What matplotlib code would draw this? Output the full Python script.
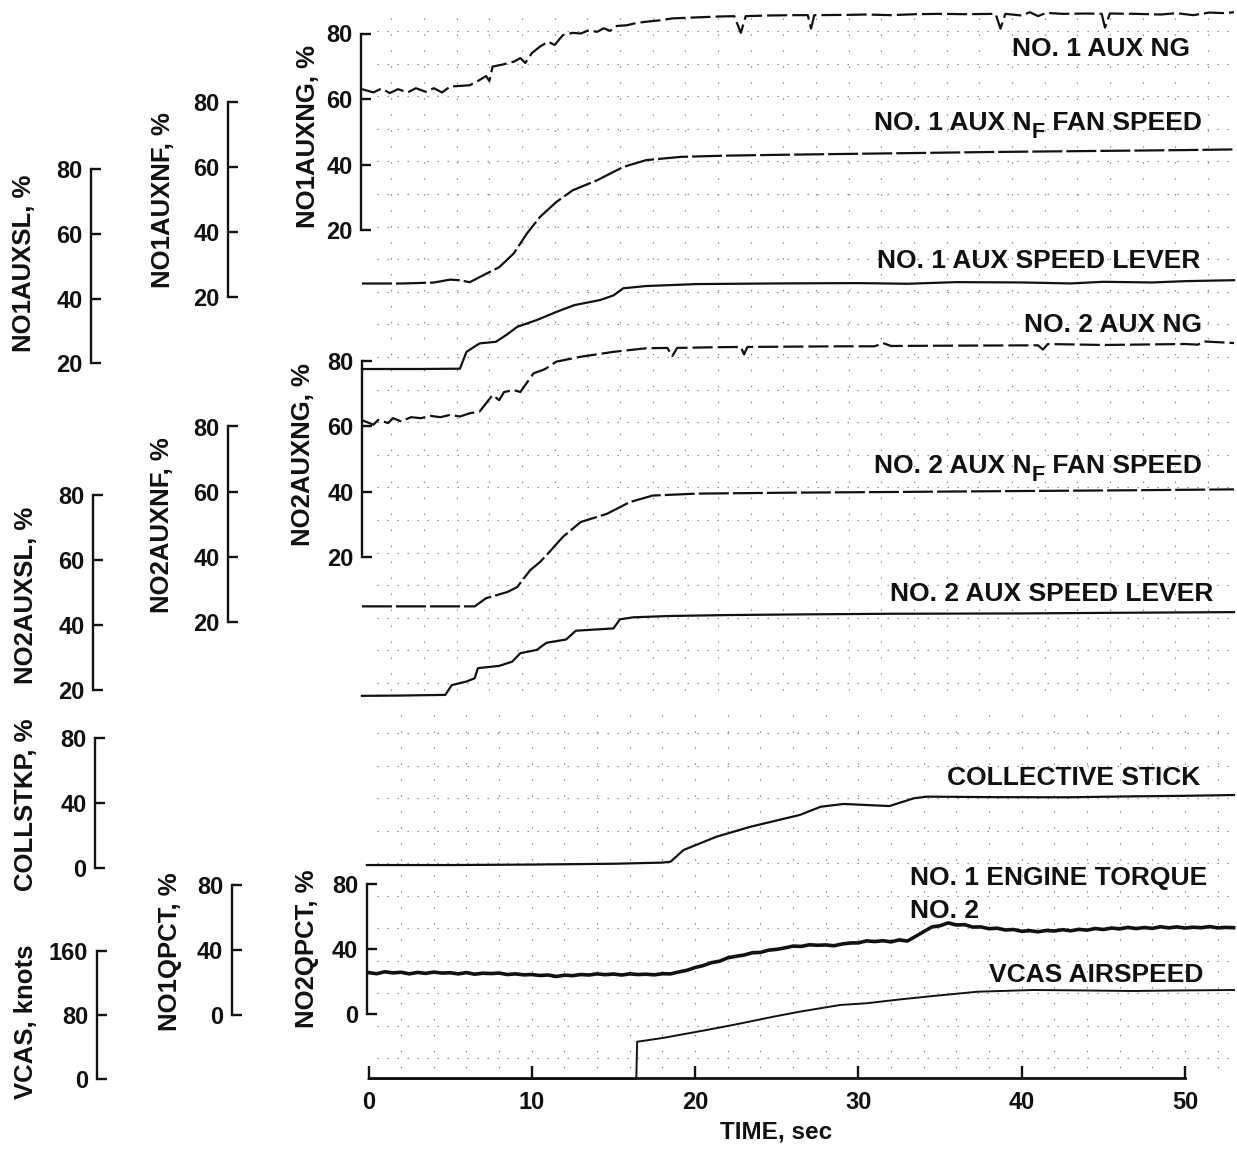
import numpy as np
import matplotlib
matplotlib.use("Agg")
import matplotlib.pyplot as plt

plt.rcParams['font.family'] = ['Liberation Sans', 'DejaVu Sans']
plt.rcParams['font.weight'] = 'bold'
plt.rcParams['lines.scale_dashes'] = False

# ---------------------------------------------------------------- data
# NO. 1 auxiliary engine gas-generator speed, %
t_ng1 = [-0.4, 0.3, 0.8, 1.3, 1.8, 2.4, 2.9, 3.5, 4.0, 4.5, 5.0, 5.6, 6.2, 6.8,
         7.2, 7.4, 7.6, 8.2, 8.9, 9.3, 9.6, 10.0, 10.5, 11.0, 11.4, 11.9, 12.5,
         13.0, 13.5, 14.0, 14.4, 14.8, 15.2, 15.8, 16.4, 17.0, 17.8, 18.6, 19.5,
         20.5, 21.5, 22.4, 22.8, 23.1, 24.5, 26.0, 26.9, 27.1, 27.3, 29.5, 30.5,
         32.0, 33.5, 35.0, 36.5, 38.4, 38.7, 39.0, 40.0, 40.5, 41.0, 41.5, 42.5,
         44.0, 44.9, 45.1, 45.4, 47.0, 48.5, 49.5, 50.5, 51.5, 52.5, 53.0]
ng1 = [63.0, 62.0, 63.2, 61.8, 63.0, 62.0, 63.3, 62.2, 63.3, 62.0, 63.8, 64.0,
       64.2, 65.8, 67.0, 65.5, 69.9, 70.5, 71.4, 72.5, 71.0, 74.0, 76.0, 77.5,
       76.5, 79.5, 80.2, 80.0, 81.0, 80.5, 81.6, 80.8, 82.3, 82.5, 83.2, 83.6,
       84.0, 84.6, 84.8, 85.0, 85.2, 85.3, 80.2, 85.3, 85.5, 85.6, 85.6, 81.5,
       85.6, 85.7, 85.8, 85.6, 85.9, 86.0, 85.9, 86.0, 81.5, 86.0, 85.5, 86.5,
       85.3, 86.3, 86.0, 86.1, 86.0, 81.8, 86.1, 86.0, 85.8, 86.2, 85.6, 86.4,
       86.2, 86.5]

# NO. 1 auxiliary fan speed, %
t_nf1 = [-0.4, 2.0, 4.0, 5.0, 5.6, 6.2, 7.2, 8.0, 8.9, 9.7, 10.5, 11.5, 12.5,
         14.0, 15.6, 17.0, 19.1, 22.0, 26.0, 32.1, 38.0, 44.0, 50.0, 53.0]
nf1 = [24.0, 24.0, 24.3, 25.2, 25.0, 24.4, 27.0, 29.0, 33.3, 39.4, 44.5, 49.1,
       52.7, 55.8, 59.9, 62.0, 63.0, 63.4, 63.7, 64.1, 64.5, 64.8, 65.1, 65.3]

# NO. 1 auxiliary speed lever, %
t_sl1 = [-0.4, 3.0, 5.6, 6.0, 6.8, 7.8, 8.5, 9.1, 10.3, 11.5, 12.6, 14.2, 15.0,
         15.6, 17.0, 20.1, 25.0, 30.0, 33.0, 36.0, 40.0, 43.0, 45.0, 48.0,
         50.0, 53.0]
sl1 = [18.3, 18.3, 18.4, 23.6, 26.2, 26.7, 29.0, 31.3, 33.4, 35.9, 38.0, 39.6,
       41.0, 43.2, 43.9, 44.5, 44.7, 44.8, 44.6, 45.1, 45.0, 44.7, 45.2, 45.0,
       45.4, 45.7]

# NO. 2 auxiliary engine gas-generator speed, %
t_ng2 = [-0.4, 0.3, 0.6, 1.2, 1.5, 2.0, 2.6, 3.2, 3.8, 4.4, 5.0, 5.6, 6.2, 6.8,
         7.6, 8.0, 8.3, 8.9, 9.3, 10.1, 10.8, 11.5, 13.0, 15.0, 17.0, 18.3,
         18.6, 18.9, 21.0, 22.8, 23.0, 23.2, 26.0, 29.0, 31.0, 31.5, 32.0, 36.0,
         41.0, 41.3, 41.6, 45.0, 50.0, 50.8, 51.1, 53.0]
ng2 = [61.9, 60.5, 62.0, 61.0, 62.5, 61.5, 62.8, 62.5, 63.2, 62.8, 63.5, 63.0,
       64.0, 64.5, 69.6, 68.0, 70.5, 71.1, 70.5, 76.2, 77.5, 79.8, 81.3, 82.8,
       83.9, 84.0, 81.5, 84.0, 84.2, 84.3, 82.0, 84.3, 84.4, 84.5, 84.5, 85.5,
       84.6, 84.7, 84.8, 83.5, 85.2, 84.9, 85.2, 85.0, 86.0, 85.5]

# NO. 2 auxiliary fan speed, %
t_nf2 = [-0.4, 3.0, 6.5, 7.2, 8.5, 9.1, 9.9, 10.5, 10.9, 11.9, 13.0, 14.6,
         16.0, 17.4, 20.1, 26.0, 32.0, 40.0, 46.0, 53.0]
nf2 = [24.8, 24.8, 24.8, 27.3, 29.2, 30.7, 35.9, 38.4, 40.5, 46.1, 50.7, 53.2,
       56.8, 58.8, 59.4, 59.7, 59.9, 60.2, 60.4, 60.7]

# NO. 2 auxiliary speed lever, %
t_sl2 = [-0.4, 2.0, 4.7, 5.1, 6.0, 6.5, 6.7, 8.0, 8.8, 9.3, 10.3, 10.9, 12.1,
         12.7, 15.0, 15.4, 16.2, 18.3, 22.0, 26.4, 32.0, 40.0, 46.0, 53.0]
sl2 = [18.2, 18.3, 18.5, 21.5, 22.6, 23.6, 26.7, 27.4, 28.7, 31.3, 32.3, 34.5,
       35.5, 38.2, 38.9, 41.7, 42.3, 42.7, 43.0, 43.2, 43.4, 43.5, 43.7, 43.9]

# Collective stick position, %
t_coll = [-0.1, 5.0, 10.0, 15.0, 18.0, 18.5, 19.3, 21.3, 23.4, 26.4, 27.7,
          29.1, 31.9, 33.4, 34.2, 38.0, 42.8, 47.0, 50.0, 53.0]
coll = [2.0, 2.0, 2.3, 2.8, 3.5, 4.1, 11.3, 19.4, 25.6, 32.8, 37.9, 39.6,
        38.3, 43.1, 44.1, 43.8, 43.7, 44.3, 44.6, 45.1]

# Engine torque, % (NO. 1 and NO. 2 traces coincide), sampled every 0.5 s
torque_pct = [25.8, 25.1, 26.3, 25.6, 26.0, 25.0, 25.9, 25.3, 26.1, 25.5,
              25.7, 25.0, 25.8, 24.8, 25.4, 25.2, 25.5, 24.6, 25.0, 24.4,
              24.6, 24.0, 24.3, 23.4, 24.2, 23.9, 24.6, 24.3, 25.0, 24.5,
              24.9, 24.3, 25.0, 24.6, 24.8, 24.4, 25.1, 25.0, 26.2, 27.2,
              28.9, 30.1, 31.9, 32.8, 34.9, 35.8, 36.6, 38.0, 38.2, 39.6,
              40.1, 41.0, 42.1, 41.9, 42.9, 42.6, 42.8, 42.3, 43.4, 44.0,
              44.1, 45.3, 44.9, 45.4, 44.7, 45.9, 45.2, 48.1, 51.0, 53.9,
              54.6, 56.4, 55.1, 55.3, 53.8, 53.9, 52.8, 53.1, 52.0, 52.3,
              51.2, 51.6, 50.9, 51.7, 51.4, 52.2, 51.5, 52.4, 51.9, 52.9,
              52.3, 53.2, 52.7, 53.6, 52.9, 53.5, 53.0, 54.0, 53.3, 53.9,
              53.2, 53.7, 53.4, 54.1, 53.3, 53.6, 53.4]
torque_dt = 0.5

# Calibrated airspeed, knots
t_vcas = [0.0, 16.4, 16.45, 18.0, 20.7, 22.5, 24.8, 26.4, 28.9, 30.5, 32.5,
          34.6, 37.3, 40.7, 43.0, 46.8, 50.0, 53.0]
vcas = [0.0, 0.0, 46.4, 51.0, 61.0, 68.0, 77.6, 83.8, 92.2, 94.3, 99.0,
        103.4, 108.7, 110.8, 110.4, 109.6, 110.3, 110.8]

time_ticks = [0, 10, 20, 30, 40, 50]
pct_ticks = [20, 40, 60, 80]
low_ticks = [0, 40, 80]
vcas_ticks = [0, 80, 160]

# ---------------------------------------------------------------- layout
W, H, DPI = 1237, 1153, 100
fig = plt.figure(figsize=(W / DPI, H / DPI), dpi=DPI)
fig.patch.set_facecolor('white')

X0, X1 = 368.5, 1235.0            # horizontal span of the time scale (px)
PX_PER_S = (1185.0 - X0) / 50.0
T_MAX = (X1 - X0) / PX_PER_S
INK = '#111111'
LW_AX = 1.7


def px_rect(top, bot):
    return [X0 / W, 1 - bot / H, (X1 - X0) / W, (bot - top) / H]


def scale_axes(top, bot, vmin, vmax, spine_x, ticks, label, lab_xy):
    ax = fig.add_axes(px_rect(top, bot))
    ax.set_xlim(0, T_MAX)
    ax.set_ylim(vmin, vmax)
    ax.patch.set_visible(False)
    for s in ('top', 'right', 'bottom'):
        ax.spines[s].set_visible(False)
    ax.spines['left'].set_position(('axes', (spine_x - X0) / (X1 - X0)))
    ax.spines['left'].set_linewidth(LW_AX)
    ax.spines['left'].set_color(INK)
    ax.set_xticks([])
    ax.set_yticks(ticks)
    ax.tick_params(axis='y', direction='in', length=7, width=LW_AX, pad=6,
                   labelsize=17, colors=INK)
    fig.text(lab_xy[0] / W, 1 - lab_xy[1] / H, label, rotation=90,
             ha='center', va='center', fontsize=18.5, fontweight='bold',
             color=INK)
    return ax


# background chart-paper grid
bg = fig.add_axes([X0 / W, 0, (X1 - X0) / W, 1])
bg.set_xlim(0, T_MAX)
bg.set_ylim(H, 0)
bg.axis('off')
grid_kw = dict(colors='0.5', linewidth=0.85, clip_on=False)
upper_rows = 31.0 + 32.6 * np.arange(21)
lower_rows = 733.0 + 32.5 * np.arange(11)
bg.hlines(np.concatenate([upper_rows, lower_rows]), 0.5, T_MAX + 0.1,
          linestyles=[(0, (1.0, 6.2))], **grid_kw)
bg.vlines(1.4 + 2.0 * np.arange(26), 18, 700,
          linestyles=[(0, (1.0, 10.5))], **grid_kw)
bg.vlines(2.0 + 2.0 * np.arange(26), 715, 1070,
          linestyles=[(0, (1.0, 10.5))], **grid_kw)

ax_ng1 = scale_axes(33.5, 230.0, 20, 80, 361, pct_ticks, 'NO1AUXNG, %', (308, 136))
ax_nf1 = scale_axes(101.7, 296.5, 20, 80, 228, pct_ticks, 'NO1AUXNF, %', (163, 200))
ax_sl1 = scale_axes(169.0, 363.5, 20, 80, 91, pct_ticks, 'NO1AUXSL, %', (24, 263))
ax_ng2 = scale_axes(361.0, 557.0, 20, 80, 362, pct_ticks, 'NO2AUXNG, %', (303, 455))
ax_nf2 = scale_axes(426.5, 622.0, 20, 80, 228, pct_ticks, 'NO2AUXNF, %', (162, 525))
ax_sl2 = scale_axes(494.5, 690.0, 20, 80, 93, pct_ticks, 'NO2AUXSL, %', (26, 595))
ax_coll = scale_axes(738.3, 868.3, 0, 80, 95, low_ticks, 'COLLSTKP, %', (26, 805))
ax_q1 = scale_axes(885.0, 1015.0, 0, 80, 231.5, low_ticks, 'NO1QPCT, %', (170, 952))
ax_q2 = scale_axes(884.0, 1014.0, 0, 80, 366.5, low_ticks, 'NO2QPCT, %', (307, 949))
ax_vc = scale_axes(950.5, 1079.0, 0, 160, 96.5, vcas_ticks, 'VCAS, knots', (26, 1022))

# time axis
ax_t = fig.add_axes(px_rect(1060.0, 1078.3))
ax_t.set_xlim(0, T_MAX)
ax_t.patch.set_visible(False)
for s in ('top', 'right', 'left'):
    ax_t.spines[s].set_visible(False)
ax_t.spines['bottom'].set_bounds(0, 50)
ax_t.spines['bottom'].set_linewidth(LW_AX + 0.3)
ax_t.spines['bottom'].set_color(INK)
ax_t.set_yticks([])
ax_t.set_xticks(time_ticks)
ax_t.tick_params(axis='x', direction='in', length=8.5, width=LW_AX, pad=9,
                 labelsize=17, colors=INK)
fig.text(776 / W, 1 - 1132 / H, 'TIME, sec', ha='center', va='center',
         fontsize=17.5, fontweight='bold', color=INK)

# ---------------------------------------------------------------- traces
dash_ng = (0, (14.5, 3.6))
dash_nf = (0, (21.6, 2.9))
line_kw = dict(color=INK, linewidth=1.6, clip_on=False, solid_joinstyle='round')

ax_ng1.plot(t_ng1, ng1, linestyle=dash_ng, **line_kw)
ax_nf1.plot(t_nf1, nf1, linestyle=dash_nf, **line_kw)
ax_sl1.plot(t_sl1, sl1, **line_kw)
ax_ng2.plot(t_ng2, ng2, linestyle=dash_ng, **line_kw)
ax_nf2.plot(t_nf2, nf2, linestyle=dash_nf, **line_kw)
ax_sl2.plot(t_sl2, sl2, **line_kw)
ax_coll.plot(t_coll, coll, **line_kw)
t_torque = torque_dt * np.arange(len(torque_pct))
ax_q1.plot(t_torque, torque_pct, color=INK, linewidth=1.9, clip_on=False)
ax_q2.plot(t_torque, torque_pct, color=INK, linewidth=1.9, clip_on=False)
ax_vc.plot(t_vcas, vcas, color=INK, linewidth=1.4, clip_on=False)

# ---------------------------------------------------------------- trace names
NAME_FS = 19


def name(text, x, y_base, ha='right'):
    return fig.text(x / W, 1 - y_base / H, text, ha=ha, va='baseline',
                    fontsize=NAME_FS, fontweight='bold', color=INK)


renderer = fig.canvas.get_renderer()


def name_subscript(head, sub, tail, x_right, y_base):
    """Right-aligned name with a lowered subscript letter (e.g. N with F)."""
    t_tail = name(tail, x_right, y_base)
    left = t_tail.get_window_extent(renderer).x0
    t_sub = fig.text(left / W - 0.5 / W, 1 - (y_base + 8) / H, sub,
                     ha='right', va='baseline', fontsize=15.5,
                     fontweight='bold', color=INK)
    left = t_sub.get_window_extent(renderer).x0
    name(head, left - 0.5, y_base)


name('NO. 1 AUX NG', 1190, 56)
name_subscript('NO. 1 AUX N', 'F', ' FAN SPEED', 1202, 130)
name('NO. 1 AUX SPEED LEVER', 1200, 268)
name('NO. 2 AUX NG', 1202, 332)
name_subscript('NO. 2 AUX N', 'F', ' FAN SPEED', 1202, 473)
name('NO. 2 AUX SPEED LEVER', 1213, 601)
name('COLLECTIVE STICK', 1200, 785)
name('NO. 1 ENGINE TORQUE', 910, 885, ha='left')
name('NO. 2', 910, 918, ha='left')
name('VCAS AIRSPEED', 1203, 982)

fig.savefig('out.png', dpi=DPI, facecolor='white')
